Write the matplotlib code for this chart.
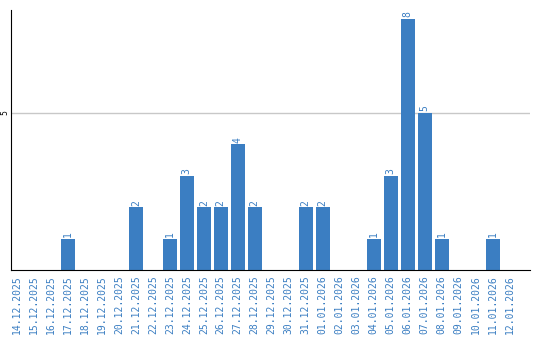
import matplotlib
matplotlib.use("Agg")
import matplotlib.pyplot as plt

dates = ["14.12.2025", "15.12.2025", "16.12.2025", "17.12.2025", "18.12.2025",
         "19.12.2025", "20.12.2025", "21.12.2025", "22.12.2025", "23.12.2025",
         "24.12.2025", "25.12.2025", "26.12.2025", "27.12.2025", "28.12.2025",
         "29.12.2025", "30.12.2025", "31.12.2025", "01.01.2026", "02.01.2026",
         "03.01.2026", "04.01.2026", "05.01.2026", "06.01.2026", "07.01.2026",
         "08.01.2026", "09.01.2026", "10.01.2026", "11.01.2026", "12.01.2026"]
counts = [0, 0, 0, 1, 0, 0, 0, 2, 0, 1,
          3, 2, 2, 4, 2, 0, 0, 2, 2, 0,
          0, 1, 3, 8, 5, 1, 0, 0, 1, 0]

blue = "#3b7ec2"

fig = plt.figure(figsize=(5.4, 3.4), dpi=100)
ax = fig.add_axes([11 / 540, 70 / 340, 519 / 540, 260 / 340])

x = list(range(len(dates)))
ax.bar(x, counts, width=0.82, color=blue, zorder=2)

for xi, c in zip(x, counts):
    if c > 0:
        ax.text(xi, c + 0.05, str(c), rotation=90, ha="center", va="bottom",
                color=blue, fontsize=7, family="DejaVu Sans Mono")

ax.set_xlim(-0.35, 30.2)
ax.set_ylim(0, 8.28)
ax.set_yticks([5])
ax.set_yticklabels(["5"], rotation=90, va="center", fontsize=5.5)
ax.tick_params(axis="y", length=0, pad=1)
ax.grid(axis="y", color="#c8c8c8", linewidth=1, zorder=0)

ax.set_xticks(x)
ax.set_xticklabels(dates, rotation=90, color=blue, fontsize=7,
                   family="DejaVu Sans Mono")
ax.tick_params(axis="x", length=0, pad=4)

for side in ["top", "right"]:
    ax.spines[side].set_visible(False)
ax.spines["left"].set_color("black")
ax.spines["bottom"].set_color("black")

fig.savefig("out.png", dpi=100)
